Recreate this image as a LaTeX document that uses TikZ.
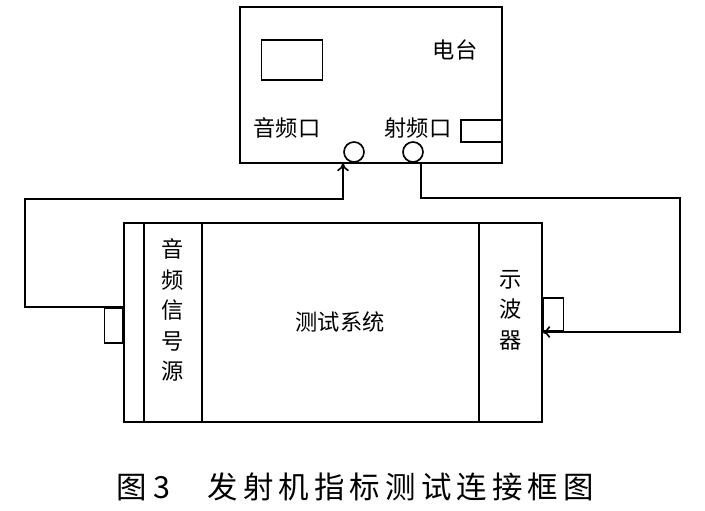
\documentclass[tikz,border=0pt]{standalone}
\usepackage{fontspec}
\newfontfamily\cjk{Noto Sans CJK SC}
\usetikzlibrary{positioning,arrows.meta}
\tikzset{
  box/.style={draw=black,line width=1.4pt,inner sep=0pt},
  wire/.style={draw=black,line width=1.4pt},
  tip/.style={-{To[length=7pt,width=10pt,line width=1.4pt]}},
  lbl/.style={font=\cjk\fontsize{19}{21}\selectfont,inner sep=0pt},
  vlbl/.style={font=\cjk\fontsize{19}{26}\selectfont,align=center,inner sep=0pt},
}
\begin{document}
\begin{tikzpicture}[x=0.03cm,y=-0.03cm]
\useasboundingbox (0,0) rectangle (705,511);
% radio station
\node[box,minimum width=262*0.03cm,minimum height=156*0.03cm] (st) at (371,85) {};
\node[box,minimum width=61*0.03cm,minimum height=40*0.03cm] (scr) at (292,60) {};
\node[box,minimum width=41*0.03cm,minimum height=22*0.03cm,anchor=east] (rfs) at (st.east |- 0,131) {};
\node[lbl] (st-t) at (455,50) {电台};
\node[lbl] (af-t) at (287,128) {音频口};
\node[lbl] (rf-t) at (418,128) {射频口};
\node[box,circle,minimum size=20*0.03cm] (af) at (354,152) {};
\node[box,circle,minimum size=20*0.03cm] (rf) at (413,152) {};
% test system
\node[box,minimum width=418*0.03cm,minimum height=199*0.03cm] (sys) at (333,322.5) {};
\draw[wire] (144,223) -- (144,422) (202,223) -- (202,422) (479,223) -- (479,422);
\node[vlbl] (sig) at (173,310) {音\\频\\信\\号\\源};
\node[vlbl] (osc) at (511,310) {示\\波\\器};
\node[lbl] (sys-t) at (340,322) {测试系统};
\node[box,minimum width=18*0.03cm,minimum height=35*0.03cm,anchor=north east] (sigs) at (sys.west |- 0,307) {};
\node[box,minimum width=20*0.03cm,minimum height=33*0.03cm,anchor=north west] (oscs) at (sys.east |- 0,297) {};
% wires
\coordinate (a1) at (25,307);
\coordinate (a2) at (25,199);
\coordinate (a3) at (343,199);
\coordinate (a4) at (343,163);
\draw[wire,tip] (sigs.north east) -- (a1) -- (a2) -- (a3) -- (a4);
\coordinate (b1) at (421,163);
\coordinate (b2) at (421,198);
\coordinate (b3) at (680,198);
\coordinate (b4) at (680,332);
\coordinate (b5) at (542,332);
\draw[wire,tip] (b1) -- (b2) -- (b3) -- (b4) -- (b5);
% caption
\node[font=\cjk\fontsize{26}{28}\selectfont,inner sep=0pt] (cap) at (355,487) {图\ 3\quad\ 发\,射\,机\,指\,标\,测\,试\,连\,接\,框\,图};
\end{tikzpicture}
\end{document}
